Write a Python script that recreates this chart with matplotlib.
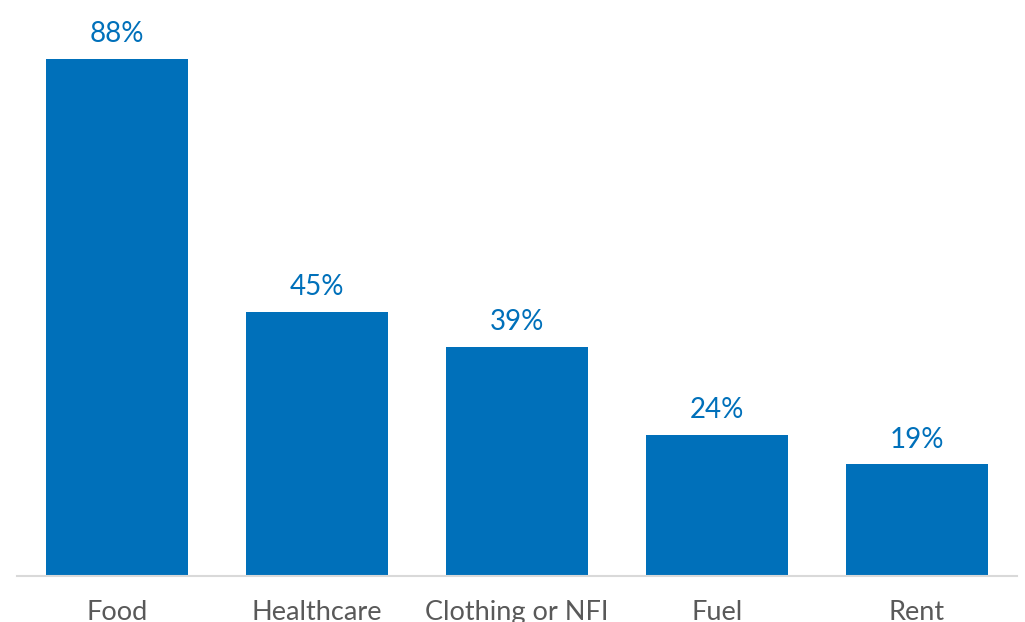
import matplotlib
matplotlib.use("Agg")
import matplotlib.pyplot as plt

categories = ["Food", "Healthcare", "Clothing or NFI", "Fuel", "Rent"]
values = [88, 45, 39, 24, 19]
labels = ["88%", "45%", "39%", "24%", "19%"]

plt.rcParams['font.family'] = ['Lato', 'DejaVu Sans']

fig = plt.figure(figsize=(10.25, 6.22), dpi=100)
ax = fig.add_axes([17 / 1025, 46 / 622, 1000 / 1025, 576 / 622])

blue = "#0070BA"
bars = ax.bar(range(len(categories)), values, width=0.71, color=blue)
for b, lab in zip(bars, labels):
    ax.annotate(lab, (b.get_x() + b.get_width() / 2, b.get_height()),
                xytext=(0, 8.5), textcoords="offset points",
                ha="center", va="bottom", fontsize=20, color=blue)

ax.set_xlim(-0.5, len(categories) - 0.5)
ax.set_ylim(0, 98)
ax.set_xticks(range(len(categories)))
ax.set_xticklabels(categories, fontsize=19.5, color="#595959")
ax.tick_params(axis="x", length=0, pad=17)
ax.set_yticks([])
for s in ["top", "left", "right"]:
    ax.spines[s].set_visible(False)
ax.spines["bottom"].set_color("#D9D9D9")
ax.spines["bottom"].set_linewidth(1.5)

fig.savefig("out.png", dpi=100)
